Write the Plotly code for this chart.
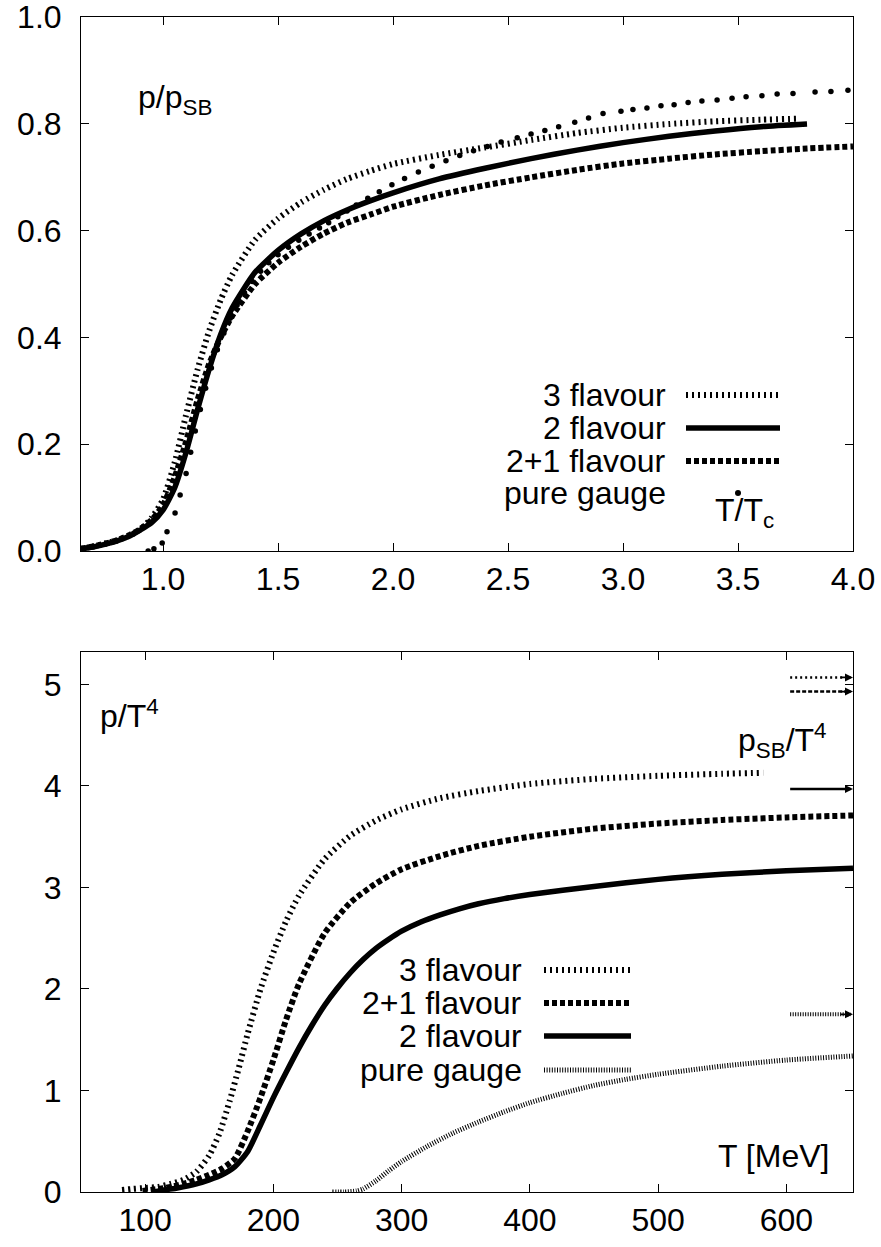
import plotly.graph_objects as go

W, H = 881, 1247
FONT = "Liberation Sans, Arial, Helvetica, sans-serif"
FS = 32

# ---------------- top panel: p/p_SB vs T/Tc ----------------
t3f_top = [0.643, 0.70, 0.75, 0.80, 0.85, 0.90, 0.95, 1.00, 1.05, 1.10, 1.15, 1.20, 1.25, 1.30,
           1.40, 1.50, 1.60, 1.70, 1.80, 1.90, 2.00, 2.20, 2.40, 2.60, 2.80, 3.00, 3.20, 3.40, 3.60, 3.77]
p3f_top = [0.004, 0.009, 0.014, 0.020, 0.028, 0.040, 0.062, 0.097, 0.165, 0.255, 0.340, 0.412, 0.470, 0.517,
           0.583, 0.623, 0.653, 0.677, 0.697, 0.712, 0.725, 0.742, 0.756, 0.770, 0.783, 0.793, 0.800, 0.805, 0.808, 0.810]

t2f_top = [0.643, 0.70, 0.75, 0.80, 0.85, 0.90, 0.95, 1.00, 1.05, 1.10, 1.15, 1.20, 1.25, 1.30,
           1.40, 1.50, 1.60, 1.70, 1.80, 1.90, 2.00, 2.20, 2.40, 2.60, 2.80, 3.00, 3.20, 3.40, 3.60, 3.80]
p2f_top = [0.004, 0.008, 0.013, 0.019, 0.027, 0.039, 0.053, 0.077, 0.118, 0.185, 0.265, 0.340, 0.405, 0.455,
           0.522, 0.563, 0.594, 0.619, 0.639, 0.656, 0.671, 0.697, 0.717, 0.735, 0.751, 0.765, 0.777, 0.787, 0.795, 0.800]

t21f_top = [0.643, 0.70, 0.75, 0.80, 0.85, 0.90, 0.95, 1.00, 1.05, 1.10, 1.15, 1.20, 1.25, 1.30,
            1.40, 1.50, 1.60, 1.70, 1.80, 1.90, 2.00, 2.20, 2.40, 2.60, 2.80, 3.00, 3.20, 3.40, 3.60, 3.80, 4.00]
p21f_top = [0.004, 0.009, 0.014, 0.020, 0.029, 0.041, 0.058, 0.086, 0.138, 0.205, 0.283, 0.350, 0.400, 0.440,
            0.500, 0.540, 0.570, 0.595, 0.615, 0.630, 0.645, 0.667, 0.685, 0.700, 0.714, 0.726, 0.735, 0.743, 0.749, 0.754, 0.758]

tpg_top = [0.935, 0.960, 0.996, 1.017, 1.052, 1.074, 1.100, 1.120, 1.140, 1.162, 1.185, 1.210, 1.236, 1.264,
           1.292, 1.322, 1.354, 1.388, 1.424, 1.460, 1.500, 1.545, 1.590, 1.635, 1.680, 1.720, 1.760, 1.800,
           1.840, 1.890, 1.940, 1.995, 2.050, 2.110, 2.170, 2.230, 2.290, 2.350, 2.410, 2.470, 2.540, 2.600,
           2.660, 2.720, 2.790, 2.850, 2.913, 2.991, 3.043, 3.104, 3.165, 3.222, 3.283, 3.343, 3.409, 3.474,
           3.535, 3.604, 3.670, 3.739, 3.835, 3.904, 3.978]
ppg_top = [0.000, 0.004, 0.015, 0.036, 0.071, 0.105, 0.145, 0.185, 0.225, 0.265, 0.305, 0.343, 0.377, 0.408,
           0.436, 0.461, 0.484, 0.505, 0.524, 0.540, 0.555, 0.569, 0.582, 0.594, 0.605, 0.615, 0.626, 0.637,
           0.648, 0.661, 0.673, 0.686, 0.698, 0.710, 0.721, 0.731, 0.741, 0.750, 0.758, 0.766, 0.774, 0.781,
           0.788, 0.795, 0.803, 0.811, 0.8195, 0.824, 0.827, 0.830, 0.834, 0.836, 0.840, 0.843, 0.845, 0.848,
           0.851, 0.853, 0.856, 0.857, 0.860, 0.861, 0.863]

# ---------------- bottom panel: p/T^4 vs T [MeV] ----------------
t3f_bot = [82, 90, 100, 110, 120, 130, 140, 150, 158, 166, 173, 180, 190, 200, 210, 220, 240, 260, 280,
           300, 330, 360, 400, 450, 500, 550, 582]
p3f_bot = [0.02, 0.03, 0.04, 0.05, 0.08, 0.12, 0.20, 0.36, 0.58, 0.90, 1.22, 1.56, 2.00, 2.36, 2.67, 2.92,
           3.28, 3.51, 3.66, 3.77, 3.88, 3.95, 4.02, 4.07, 4.10, 4.12, 4.13]

t21f_bot = [98, 110, 120, 130, 140, 150, 160, 170, 180, 190, 200, 210, 220, 240, 260, 280, 300, 330, 360,
            400, 450, 500, 550, 600, 652]
p21f_bot = [0.01, 0.03, 0.05, 0.08, 0.12, 0.17, 0.23, 0.33, 0.60, 0.93, 1.30, 1.70, 2.05, 2.55, 2.85, 3.04,
            3.18, 3.31, 3.41, 3.50, 3.58, 3.63, 3.665, 3.69, 3.71]

t2f_bot = [107, 115, 125, 140, 150, 160, 170, 180, 190, 200, 210, 220, 230, 240, 250, 260, 270, 280, 290,
           300, 315, 330, 345, 360, 380, 400, 450, 500, 550, 600, 652]
p2f_bot = [0.00, 0.02, 0.04, 0.08, 0.12, 0.17, 0.25, 0.40, 0.66, 0.93, 1.18, 1.42, 1.64, 1.84, 2.01, 2.16,
           2.29, 2.40, 2.49, 2.57, 2.66, 2.73, 2.79, 2.84, 2.89, 2.93, 3.01, 3.08, 3.13, 3.165, 3.19]

tpg_bot = [246, 255, 265, 270, 280, 290, 300, 320, 340, 360, 380, 400, 425, 450, 475, 500, 550, 600, 652]
ppg_bot = [0.00, 0.00, 0.01, 0.03, 0.11, 0.21, 0.30, 0.45, 0.58, 0.69, 0.79, 0.88, 0.97, 1.05, 1.11, 1.16,
           1.24, 1.30, 1.34]

# Stefan-Boltzmann limits (arrows): 3 flavour, 2+1 flavour, 2 flavour, pure gauge
sb_values = [5.07, 4.93, 3.97, 1.75]
sb_arrow_from = 603
sb_arrow_to = 652

# ---------------- styles ----------------
ST_3F = dict(color="black", width=6, dash="2px,4px", shape="spline", smoothing=0.6)
ST_2F = dict(color="black", width=5.5, shape="spline", smoothing=0.6)
ST_21F = dict(color="black", width=6, dash="5px,3px", shape="spline", smoothing=0.6)
ST_PG = dict(color="black", width=5, dash="1px,1.6px", shape="spline", smoothing=0.6)

def shape_style(st):
    return {k: v for k, v in st.items() if k in ("color", "width", "dash")}

fig = go.Figure()

def add_line(x, y, style, xa, ya):
    fig.add_trace(go.Scatter(x=x, y=y, mode="lines", line=style, xaxis=xa, yaxis=ya,
                             showlegend=False, hoverinfo="skip"))

# top
add_line(t3f_top, p3f_top, ST_3F, "x", "y")
add_line(t21f_top, p21f_top, ST_21F, "x", "y")
add_line(t2f_top, p2f_top, ST_2F, "x", "y")
fig.add_trace(go.Scatter(x=tpg_top, y=ppg_top, mode="markers",
                         marker=dict(color="black", size=5.5, line=dict(width=0)),
                         xaxis="x", yaxis="y", showlegend=False, hoverinfo="skip"))

# bottom
add_line(t3f_bot, p3f_bot, ST_3F, "x2", "y2")
add_line(t21f_bot, p21f_bot, ST_21F, "x2", "y2")
add_line(t2f_bot, p2f_bot, ST_2F, "x2", "y2")
add_line(tpg_bot, ppg_bot, ST_PG, "x2", "y2")

# SB arrows
arrow_styles = [dict(color="black", width=2.5, dash="2px,3px"),
                dict(color="black", width=2.5, dash="4px,2px"),
                dict(color="black", width=2.5),
                dict(color="black", width=4, dash="1px,1.5px")]
annotations = []
for v, st in zip(sb_values, arrow_styles):
    add_line([sb_arrow_from, sb_arrow_to - 2], [v, v], st, "x2", "y2")
    annotations.append(dict(x=sb_arrow_to, y=v, xref="x2", yref="y2", ax=-14, ay=0,
                            showarrow=True, arrowhead=2, arrowsize=1, arrowwidth=1.6,
                            arrowcolor="black", text=""))

# ---------------- layout ----------------
def px_x(p):
    return p / W

def px_y(p):
    return 1 - p / H

xdom = [px_x(81), px_x(853)]
axis_common = dict(showgrid=False, zeroline=False, showline=True, linecolor="black", linewidth=1,
                   mirror="ticks", ticks="inside", ticklen=8, tickwidth=1, tickcolor="black",
                   automargin=False, ticklabeloverflow="allow",
                   tickfont=dict(family=FONT, size=FS, color="black"))

fig.update_layout(
    width=W, height=H, margin=dict(l=0, r=0, t=0, b=0, autoexpand=False),
    paper_bgcolor="white", plot_bgcolor="white",
    font=dict(family=FONT, size=FS, color="black"),
    xaxis=dict(domain=xdom, range=[0.643, 4.0], anchor="y", tickmode="array",
               tickvals=[1.0, 1.5, 2.0, 2.5, 3.0, 3.5, 4.0],
               ticktext=["1.0", "1.5", "2.0", "2.5", "3.0", "3.5", "4.0"], **axis_common),
    yaxis=dict(domain=[px_y(551), px_y(17)], range=[0, 1.0004], anchor="x", tickmode="array",
               tickvals=[0, 0.2, 0.4, 0.6, 0.8, 1.0],
               ticktext=["0.0", "0.2", "0.4", "0.6", "0.8", "1.0"], ticklabelstandoff=12, **axis_common),
    xaxis2=dict(domain=xdom, range=[50, 652], anchor="y2", tickmode="array",
                tickvals=[100, 200, 300, 400, 500, 600], **axis_common),
    yaxis2=dict(domain=[px_y(1192), px_y(652)], range=[0, 5.32], anchor="x2", tickmode="array",
                tickvals=[0, 1, 2, 3, 4, 5], ticklabelstandoff=12, **axis_common),
)

# panel labels
annotations += [
    dict(x=1.05, y=0.845, xref="x", yref="y", text="p/p<sub>SB</sub>", showarrow=False,
         xanchor="center", yanchor="middle", font=dict(size=FS)),
    dict(x=3.53, y=0.072, xref="x", yref="y", text="T/T<sub>c</sub>", showarrow=False,
         xanchor="center", yanchor="middle", font=dict(size=FS)),
    dict(x=88, y=4.71, xref="x2", yref="y2", text="p/T<sup>4</sup>", showarrow=False,
         xanchor="center", yanchor="middle", font=dict(size=FS)),
    dict(x=597, y=4.45, xref="x2", yref="y2", text="p<sub>SB</sub>/T<sup>4</sup>", showarrow=False,
         xanchor="center", yanchor="middle", font=dict(size=FS)),
    dict(x=590, y=0.355, xref="x2", yref="y2", text="T [MeV]", showarrow=False,
         xanchor="center", yanchor="middle", font=dict(size=FS)),
]

# legends (text right-aligned, sample on the right)
top_legend = [("3 flavour", 395, ST_3F), ("2 flavour", 428, ST_2F),
              ("2+1 flavour", 461, ST_21F), ("pure gauge", 493, None)]
bot_legend = [("3 flavour", 970, ST_3F), ("2+1 flavour", 1003, ST_21F),
              ("2 flavour", 1036, ST_2F), ("pure gauge", 1070, ST_PG)]

shapes = []
for label, ypx, st in top_legend:
    annotations.append(dict(x=px_x(668), y=px_y(ypx), xref="paper", yref="paper", text=label,
                            showarrow=False, xanchor="right", yanchor="middle", font=dict(size=FS)))
    if st is None:
        shapes.append(dict(type="circle", xref="paper", yref="paper", x0=px_x(735), x1=px_x(741),
                           y0=px_y(ypx + 3), y1=px_y(ypx - 3), fillcolor="black", line=dict(width=0)))
    else:
        shapes.append(dict(type="line", xref="paper", yref="paper", x0=px_x(686), x1=px_x(780),
                           y0=px_y(ypx), y1=px_y(ypx), line=shape_style(st)))
for label, ypx, st in bot_legend:
    annotations.append(dict(x=px_x(524), y=px_y(ypx), xref="paper", yref="paper", text=label,
                            showarrow=False, xanchor="right", yanchor="middle", font=dict(size=FS)))
    shapes.append(dict(type="line", xref="paper", yref="paper", x0=px_x(544), x1=px_x(631),
                       y0=px_y(ypx), y1=px_y(ypx), line=shape_style(st)))

fig.update_layout(annotations=annotations, shapes=shapes)
fig.write_html("out.html")
